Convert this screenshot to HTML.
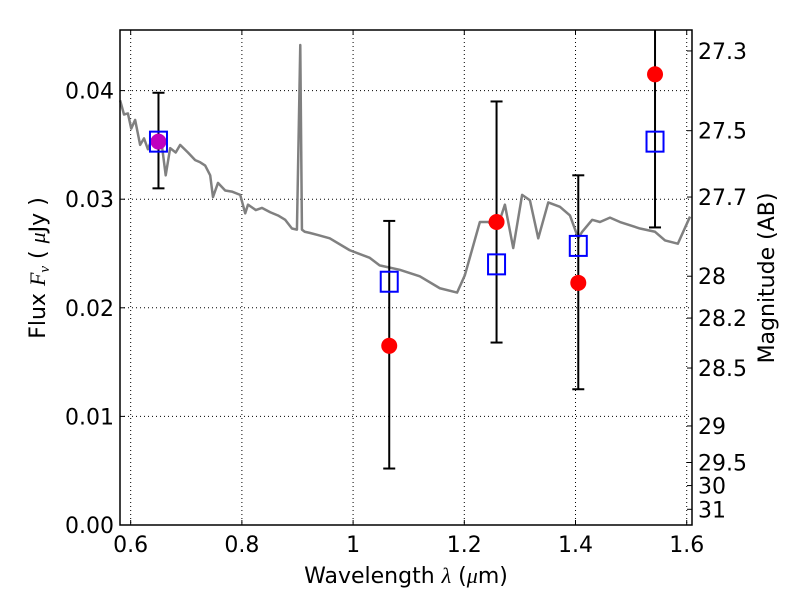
<!DOCTYPE html>
<html><head><meta charset="utf-8"><style>
html,body{margin:0;padding:0;background:#fff;}
svg{display:block;font-family:"DejaVu Sans","Liberation Sans",sans-serif;}
</style></head><body>
<svg id="chart" width="800" height="600" viewBox="0 0 800 600" xmlns="http://www.w3.org/2000/svg">
<rect width="800" height="600" fill="#fff"/>
<g id="grid"></g>
<g id="spec"></g>
<g id="marks"></g>
<g id="axes"></g>
<text x="406" y="583" font-size="22" text-anchor="middle">Wavelength  <tspan font-style="italic" font-family="Liberation Serif, serif">λ</tspan> (<tspan font-style="italic" font-family="Liberation Serif, serif">μ</tspan>m)</text>
<text transform="translate(45,268) rotate(-90)" font-size="22" text-anchor="middle">Flux  <tspan font-style="italic" font-family="Liberation Serif, serif">F<tspan font-size="15" dy="4">ν</tspan></tspan><tspan dy="-4">  (  </tspan><tspan font-style="italic" font-family="Liberation Serif, serif">μ</tspan>Jy )</text>
<text transform="translate(774,278) rotate(-90)" font-size="22" text-anchor="middle">Magnitude (AB)</text>
</svg>
<script>
const specLam=[0.581,0.588,0.595,0.601,0.608,0.617,0.624,0.631,0.638,0.647,0.656,0.663,0.671,0.681,0.689,0.703,0.716,0.725,0.734,0.743,0.748,0.757,0.770,0.782,0.797,0.806,0.811,0.825,0.836,0.851,0.865,0.878,0.890,0.899,0.905,0.908,0.913,0.922,0.937,0.958,0.994,1.030,1.048,1.084,1.120,1.156,1.187,1.201,1.228,1.243,1.259,1.273,1.288,1.304,1.318,1.333,1.351,1.372,1.390,1.405,1.412,1.430,1.444,1.462,1.480,1.516,1.543,1.561,1.584,1.606];
const specFlux=[0.0391,0.0378,0.0379,0.0365,0.0373,0.0350,0.0356,0.0346,0.0355,0.0352,0.0350,0.0322,0.0347,0.0343,0.0350,0.0343,0.0336,0.0334,0.0331,0.0322,0.0302,0.0315,0.0308,0.0307,0.0304,0.0287,0.0295,0.0290,0.0292,0.0288,0.0285,0.0281,0.0273,0.0272,0.0442,0.0272,0.0270,0.0269,0.0267,0.0264,0.0253,0.0246,0.0239,0.0235,0.0229,0.0218,0.0214,0.0230,0.0279,0.0279,0.0273,0.0295,0.0255,0.0304,0.0299,0.0264,0.0297,0.0293,0.0285,0.0264,0.0270,0.0281,0.0279,0.0283,0.0279,0.0273,0.0270,0.0262,0.0259,0.0284];
const bandLam=[0.650,1.065,1.258,1.405,1.543];
const obsFlux=[0.0353,0.0165,0.0279,0.0223,0.0415];
const errLow=[0.0310,0.0052,0.0168,0.0125,0.0274];
const errHigh=[0.0398,0.0280,0.0390,0.0322,0.0470];
const modelFlux=[0.0353,0.0224,0.0240,0.0257,0.0353];
const xTicks=[0.6,0.8,1.0,1.2,1.4,1.6];
const xTickLabels=["0.6","0.8","1","1.2","1.4","1.6"];
const yTicks=[0,0.01,0.02,0.03,0.04];
const yTickLabels=["0.00","0.01","0.02","0.03","0.04"];
const magTicks=[27.3,27.5,27.7,28,28.2,28.5,29,29.5,30,31];
const magTickLabels=["27.3","27.5","27.7","28","28.2","28.5","29","29.5","30","31"];

const L=120,R=692,T=30,B=525;
const X0=0.5808,X1=1.6095,Y0=0,Y1=0.04558;
const sx=v=>L+(v-X0)/(X1-X0)*(R-L);
const sy=v=>B-(v-Y0)/(Y1-Y0)*(B-T);
const NS="http://www.w3.org/2000/svg";
function mk(parent,tag,attrs){const e=document.createElementNS(NS,tag);for(const k in attrs)e.setAttribute(k,attrs[k]);document.getElementById(parent).appendChild(e);return e;}

xTicks.forEach((t,i)=>{
 const x=sx(t);
 const g=mk('grid','line',{x1:x,x2:x,y1:T,y2:B,stroke:'#000','stroke-width':1,'stroke-dasharray':'1,3'});
 
 
 mk('axes','line',{x1:x,x2:x,y1:B,y2:B-5,stroke:'#000'});
 mk('axes','line',{x1:x,x2:x,y1:T,y2:T+5,stroke:'#000'});
 const tx=mk('axes','text',{x:x,y:B+27,'font-size':22,'text-anchor':'middle'});
 tx.textContent=xTickLabels[i];
 
 
});
yTicks.forEach((t,i)=>{
 const y=sy(t);
 if(t>0){const g=mk('grid','line',{x1:L,x2:R,y1:y,y2:y,stroke:'#000','stroke-width':1,'stroke-dasharray':'1,3'});
 
 }
 mk('axes','line',{x1:L,x2:L+5,y1:y,y2:y,stroke:'#000'});
 const tx=mk('axes','text',{x:L-6,y:y+8,'font-size':22,'text-anchor':'end'});
 tx.textContent=yTickLabels[i];
 
 
});
magTicks.forEach((m,i)=>{
 const f=Math.pow(10,(23.9-m)/2.5);
 const y=sy(f);
 mk('axes','line',{x1:R-5,x2:R,y1:y,y2:y,stroke:'#000'});
 const tx=mk('axes','text',{x:R+6,y:y+8,'font-size':22});
 tx.textContent=magTickLabels[i];
 
 
});

const sp=mk('spec','polyline',{points:specLam.map((l,i)=>sx(l)+','+sy(specFlux[i])).join(' '),fill:'none',stroke:'#808080','stroke-width':2.5,'stroke-linejoin':'round'});



bandLam.forEach((l,i)=>{
 const x=sx(l);
 const top=Math.max(T,sy(errHigh[i])), bot=sy(errLow[i]);
 const eb=mk('marks','g',{});
 
 
 mk('marks','line',{x1:x,x2:x,y1:top,y2:bot,stroke:'#000','stroke-width':2});
 if(sy(errHigh[i])>T) mk('marks','line',{x1:x-6,x2:x+6,y1:top,y2:top,stroke:'#000','stroke-width':2});
 mk('marks','line',{x1:x-6,x2:x+6,y1:bot,y2:bot,stroke:'#000','stroke-width':2});
});
bandLam.forEach((l,i)=>{
 const c=mk('marks','circle',{cx:sx(l),cy:sy(obsFlux[i]),r:8,fill:i===0?'#bf00bf':'#ff0000'});
 
 
 const s=mk('marks','rect',{x:sx(l)-8.5,y:sy(modelFlux[i])-10,width:17,height:20,fill:'none',stroke:'#0000ff','stroke-width':2});
 
 
});
const fr=mk('axes','rect',{x:L,y:T,width:R-L,height:B-T,fill:'none',stroke:'#000','stroke-width':1.5});


</script>
</body></html>
